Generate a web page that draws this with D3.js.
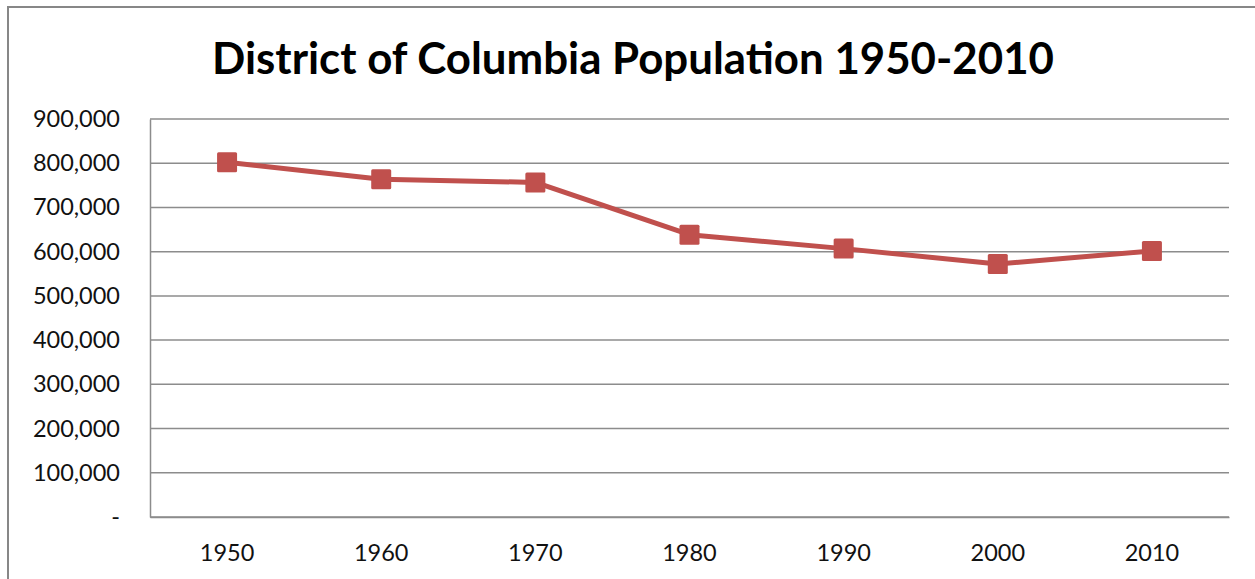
<!DOCTYPE html>
<html>
<head>
<meta charset="utf-8">
<script src="https://cdn.jsdelivr.net/npm/d3@7"></script>
<style>
  body { margin: 0; background: #fff; }
  text { font-family: Lato, "Open Sans", sans-serif; }
</style>
</head>
<body>
<svg id="chart"></svg>
<script>
// DC population by census year
const years = ['1950', '1960', '1970', '1980', '1990', '2000', '2010'];
const population = [802178, 763956, 756510, 638333, 606900, 572059, 601723];
const yTicks = [0, 100000, 200000, 300000, 400000, 500000, 600000, 700000, 800000, 900000];
const chartTitle = 'District of Columbia Population 1950-2010';

const width = 1255, height = 579;
const margin = {top: 119, right: 26, bottom: 62, left: 150};
const plotW = width - margin.left - margin.right;
const plotH = height - margin.top - margin.bottom;

const svg = d3.select('#chart')
    .attr('width', width)
    .attr('height', height);

// outer chart border
svg.append('rect')
    .attr('x', 8).attr('y', 7)
    .attr('width', width + 10).attr('height', height + 10)
    .attr('fill', 'none')
    .attr('stroke', '#878787')
    .attr('stroke-width', 2);

svg.append('text')
    .attr('x', 633)
    .attr('y', 74)
    .attr('text-anchor', 'middle')
    .attr('font-size', 43.8)
    .attr('font-weight', 'bold')
    .attr('fill', '#000')
    .text(chartTitle);

const g = svg.append('g')
    .attr('transform', `translate(${margin.left},${margin.top})`);

const x = d3.scaleBand()
    .domain(years)
    .range([0, plotW]);

const y = d3.scaleLinear()
    .domain([0, 900000])
    .range([plotH, 0]);

// horizontal gridlines
g.append('g')
    .selectAll('line')
    .data(yTicks)
    .join('line')
      .attr('x1', 0).attr('x2', plotW)
      .attr('y1', d => y(d)).attr('y2', d => y(d))
      .attr('stroke', '#8c8c8c')
      .attr('stroke-width', 1.5);

// y axis
const yAxis = d3.axisLeft(y)
    .tickValues(yTicks)
    .tickSize(0)
    .tickPadding(30)
    .tickFormat(d => d === 0 ? '-' : d3.format(',')(d));

g.append('g')
    .call(yAxis)
    .call(s => s.select('.domain').attr('stroke', '#8c8c8c').attr('stroke-width', 1.5))
    .call(s => s.selectAll('text')
        .attr('font-size', 23.5)
        .attr('fill', '#111')
        .style('font-family', 'Lato, sans-serif'));

// x axis
const xAxis = d3.axisBottom(x)
    .tickSize(0)
    .tickPadding(27);

g.append('g')
    .attr('transform', `translate(0,${plotH})`)
    .call(xAxis)
    .call(s => s.select('.domain').attr('stroke', '#8c8c8c').attr('stroke-width', 1.5))
    .call(s => s.selectAll('text')
        .attr('font-size', 23.5)
        .attr('fill', '#111')
        .style('font-family', 'Lato, sans-serif'));

const pts = years.map((yr, i) => ({year: yr, value: population[i]}));
const cx = d => x(d.year) + x.bandwidth() / 2;

const line = d3.line()
    .x(cx)
    .y(d => y(d.value));

g.append('path')
    .datum(pts)
    .attr('fill', 'none')
    .attr('stroke', '#C0504D')
    .attr('stroke-width', 5)
    .attr('stroke-linejoin', 'round')
    .attr('d', line);

const s = 20;
g.append('g')
    .selectAll('rect')
    .data(pts)
    .join('rect')
      .attr('x', d => cx(d) - s / 2)
      .attr('y', d => y(d.value) - s / 2)
      .attr('width', s).attr('height', s)
      .attr('rx', 1.5)
      .attr('fill', '#C0504D');
</script>
</body>
</html>
